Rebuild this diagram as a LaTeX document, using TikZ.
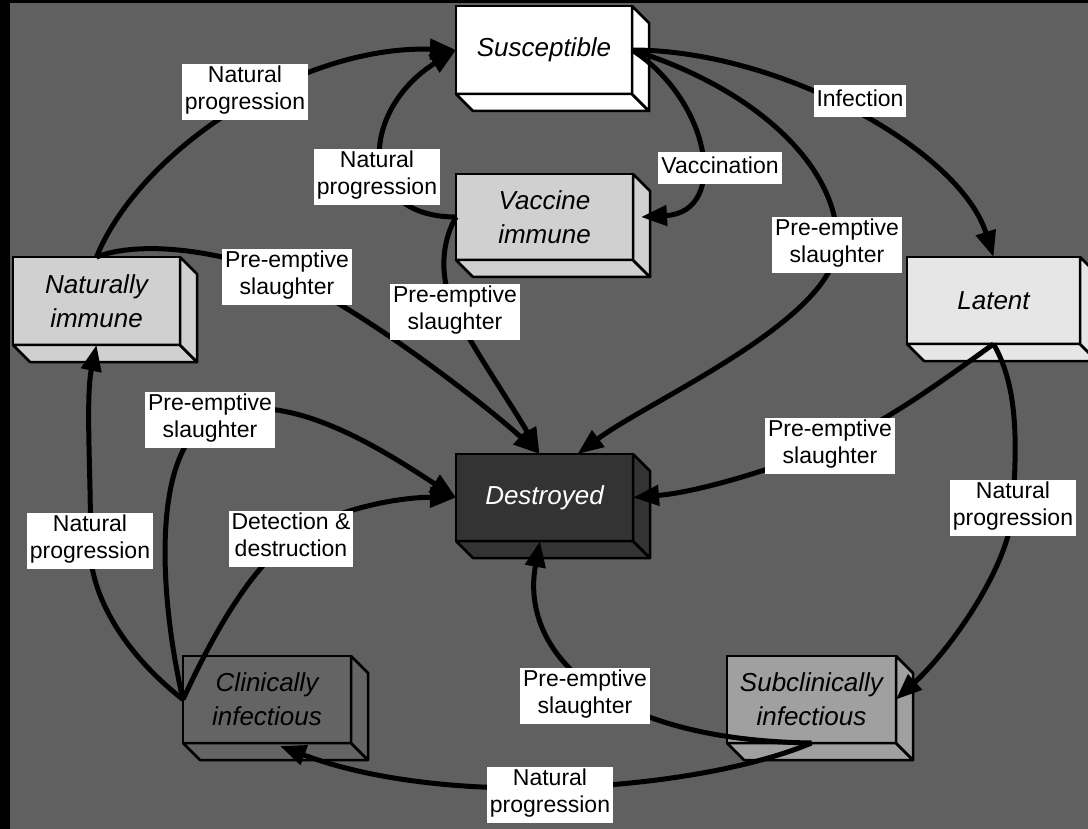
\documentclass[tikz,border=0pt]{standalone}
\usepackage{fontspec}
\setmainfont{Liberation Sans}
\usetikzlibrary{arrows.meta}
\definecolor{cBg}{RGB}{96,96,96}
\definecolor{cVac}{RGB}{208,208,208}
\definecolor{cLat}{RGB}{230,230,230}
\definecolor{cDes}{RGB}{51,51,51}
\definecolor{cCli}{RGB}{100,100,100}
\definecolor{cSub}{RGB}{160,160,160}
\newcommand\boxfaces[2]{%
  \filldraw[fill=#2, draw=black, line width=2.5pt, line join=round]
    (#1.south west) -- (#1.south east) -- ([shift={(17,17)}]#1.south east) -- ([shift={(17,17)}]#1.south west) -- cycle;
  \filldraw[fill=#2, draw=black, line width=2.5pt, line join=round]
    (#1.north east) -- ([shift={(17,17)}]#1.north east) -- ([shift={(17,17)}]#1.south east) -- (#1.south east) -- cycle;
}
\begin{document}
\begin{tikzpicture}[x=1pt,y=-1pt,
  stbox/.style={draw=black, line width=2.5pt, inner sep=0pt, outer sep=0pt, align=center,
    font=\fontsize{26}{34}\selectfont\itshape},
  lab/.style={fill=white, inner xsep=3pt, inner ysep=2.5pt, align=center,
    font=\fontsize{23}{27}\selectfont, execute at begin node=\strut, execute at end node=\strut},
  conn/.style={line width=5pt, draw=black, -{Triangle[length=26pt,width=20pt]}},
]
\useasboundingbox (0,0) rectangle (1088,829);
\fill[black] (0,0) rectangle (1088,829);
\fill[cBg] (10,3) rectangle (1088,829);

% boxes
\node[stbox, fill=white, minimum width=176pt, minimum height=88pt] (sus) at (544,50) {Susceptible};
\node[stbox, fill=cVac, minimum width=177pt, minimum height=86pt] (vac) at (544.5,217) {Vaccine\\immune};
\node[stbox, fill=cVac, minimum width=167pt, minimum height=88pt] (nat) at (96.5,301) {Naturally\\immune};
\node[stbox, fill=cLat, minimum width=173pt, minimum height=87pt] (lat) at (993.5,300.5) {Latent};
\node[stbox, fill=cDes, text=white, minimum width=177pt, minimum height=87pt] (des) at (544.5,497.5) {Destroyed};
\node[stbox, fill=cCli, minimum width=168pt, minimum height=87pt] (cli) at (267,699.5) {Clinically\\infectious};
\node[stbox, fill=cSub, minimum width=169pt, minimum height=87pt] (sub) at (811.5,699.5) {Subclinically\\infectious};
\boxfaces{sus}{white}
\boxfaces{vac}{cVac}
\boxfaces{nat}{cVac}
\boxfaces{lat}{cLat}
\boxfaces{des}{cDes}
\boxfaces{cli}{cCli}
\boxfaces{sub}{cSub}

% label positions (drawn later, on top)
\path
  (245,92) coordinate (p1)
  (377,177) coordinate (p2)
  (860,101) coordinate (p3)
  (720,168) coordinate (p4)
  (837,245) coordinate (p5)
  (287,277) coordinate (p6)
  (455,312) coordinate (p7)
  (210,420) coordinate (p8)
  (830,446) coordinate (p9)
  (1013,508) coordinate (p10)
  (90,541) coordinate (p11)
  (291,539) coordinate (p12)
  (585,696) coordinate (p13)
  (550,795) coordinate (p14);

% connectors
\draw[conn] (nat.north) .. controls (140,150) and (300,45) .. (sus.west);
\draw[conn] (vac.west) .. controls (355,217) and (360,110) .. (sus.west);
\draw[conn] (sus.east) .. controls (710,100) and (730,212) .. ([xshift=8pt]vac.east);
\draw[conn] (sus.east) .. controls (780,50) and (960,150) .. (lat.north);
\draw[conn] (sus.east) .. controls (760,90) and (840,170) .. (p5) .. controls (834,320) and (650,400) .. ([xshift=33pt]des.north);
\draw[conn] (nat.north) .. controls (140,240) and (220,250) .. (p6) .. controls (354,304) and (480,400) .. ([xshift=-5pt]des.north);
\draw[conn] (vac.west) .. controls (440,245) and (440,280) .. (p7) .. controls (470,344) and (515,410) .. ([xshift=-5pt]des.north);
\draw[conn] (cli.west) .. controls (160,600) and (150,454) .. (p8) .. controls (280,380) and (390,455) .. (des.west);
\draw[conn] (cli.west) .. controls (215,630) and (251,569) .. (p12) .. controls (331,509) and (400,497) .. (des.west);
\draw[conn] (cli.west) .. controls (120,650) and (88,590) .. (p11) .. controls (92,492) and (85,400) .. (nat.south);
\draw[conn] (lat.south) .. controls (930,390) and (880,425) .. (p9) .. controls (780,467) and (700,492) .. (des.east);
\draw[conn] (lat.south) .. controls (1020,390) and (1016,450) .. (p10) .. controls (1010,566) and (950,650) .. (sub.east);
\draw[conn] (sub.south) .. controls (600,740) and (520,650) .. ([xshift=-4.5pt]des.south);
\draw[conn] (sub.south) .. controls (700,790) and (450,810) .. ([xshift=13pt,yshift=-3pt]cli.south);

% labels
\node[lab] (l1) at (p1) {Natural\\progression};
\node[lab] (l2) at (p2) {Natural\\progression};
\node[lab] (l3) at (p3) {Infection};
\node[lab] (l4) at (p4) {Vaccination};
\node[lab] (l5) at (p5) {Pre-emptive\\slaughter};
\node[lab] (l6) at (p6) {Pre-emptive\\slaughter};
\node[lab] (l7) at (p7) {Pre-emptive\\slaughter};
\node[lab] (l8) at (p8) {Pre-emptive\\slaughter};
\node[lab] (l9) at (p9) {Pre-emptive\\slaughter};
\node[lab] (l10) at (p10) {Natural\\progression};
\node[lab] (l11) at (p11) {Natural\\progression};
\node[lab] (l12) at (p12) {Detection \&\\destruction};
\node[lab] (l13) at (p13) {Pre-emptive\\slaughter};
\node[lab] (l14) at (p14) {Natural\\progression};
\end{tikzpicture}
\end{document}
